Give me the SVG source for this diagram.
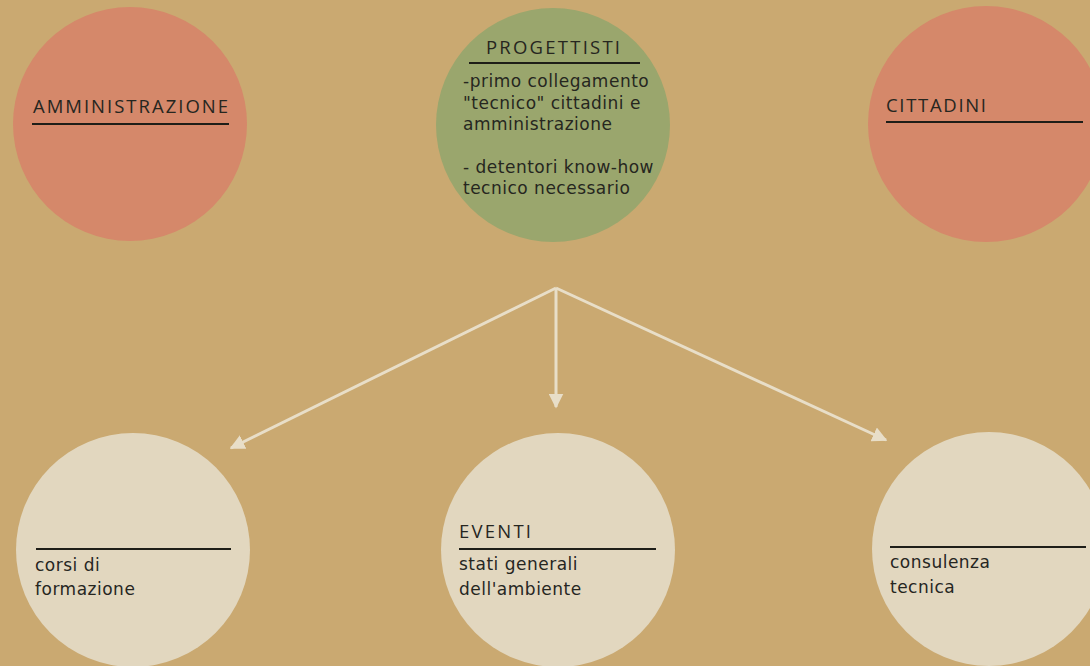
<svg xmlns="http://www.w3.org/2000/svg" width="1090" height="666" viewBox="0 0 1090 666">
<defs>
<style>
.bg{fill:#CAA971}
.red{fill:#D5886A}
.green{fill:#9AA66D}
.cream{fill:#E2D7BF}
.t{font-family:"DejaVu Sans","Liberation Sans",sans-serif;font-size:17px;fill:#26261F;letter-spacing:0.5px}
.h{font-family:"Open Sans","Liberation Sans",sans-serif;font-size:18.5px;fill:#26261F}
.ul{stroke:#1E1E18;stroke-width:2}
.conn{stroke:#E8DEC8;stroke-width:3;fill:none}
</style>
<marker id="ah" viewBox="0 0 10 10" refX="9" refY="5" markerWidth="5" markerHeight="5" orient="auto" markerUnits="strokeWidth">
<path d="M0,0 L10,5 L0,10 z" fill="#E8DEC8"/>
</marker>
</defs>
<rect class="bg" x="0" y="0" width="1090" height="666"/>
<g id="connectors">
<line class="conn" x1="556" y1="288" x2="231" y2="448" marker-end="url(#ah)"/>
<line class="conn" x1="556" y1="288" x2="556" y2="407" marker-end="url(#ah)"/>
<line class="conn" x1="556" y1="288" x2="886" y2="440" marker-end="url(#ah)"/>
</g>
<g id="amministrazione">
<circle class="red" cx="130" cy="124" r="117"/>
<text class="h" x="33" y="113" textLength="195">AMMINISTRAZIONE</text>
<line class="ul" x1="32" y1="124" x2="229" y2="124"/>
</g>
<g id="progettisti">
<circle class="green" cx="553" cy="125" r="117"/>
<text class="h" x="486" y="54" textLength="134">PROGETTISTI</text>
<line class="ul" x1="469" y1="63" x2="640" y2="63"/>
<text class="t" x="463" y="87">-primo collegamento</text>
<text class="t" x="463" y="109">"tecnico" cittadini e</text>
<text class="t" x="463" y="130">amministrazione</text>
<text class="t" x="463" y="173">- detentori know-how</text>
<text class="t" x="463" y="194">tecnico necessario</text>
</g>
<g id="cittadini">
<circle class="red" cx="986" cy="124" r="118"/>
<text class="h" x="886" y="112" textLength="100">CITTADINI</text>
<line class="ul" x1="886" y1="122" x2="1083" y2="122"/>
</g>
<g id="corsi">
<circle class="cream" cx="133" cy="550" r="117"/>
<line class="ul" x1="36" y1="549" x2="231" y2="549"/>
<text class="t" x="35" y="571">corsi di</text>
<text class="t" x="35" y="595">formazione</text>
</g>
<g id="eventi">
<circle class="cream" cx="558" cy="550" r="117"/>
<text class="h" x="459" y="538" textLength="72">EVENTI</text>
<line class="ul" x1="459" y1="549" x2="656" y2="549"/>
<text class="t" x="459" y="570">stati generali</text>
<text class="t" x="459" y="595">dell'ambiente</text>
</g>
<g id="consulenza">
<circle class="cream" cx="989" cy="549" r="117"/>
<line class="ul" x1="890" y1="547" x2="1086" y2="547"/>
<text class="t" x="890" y="568">consulenza</text>
<text class="t" x="890" y="593">tecnica</text>
</g>
</svg>
